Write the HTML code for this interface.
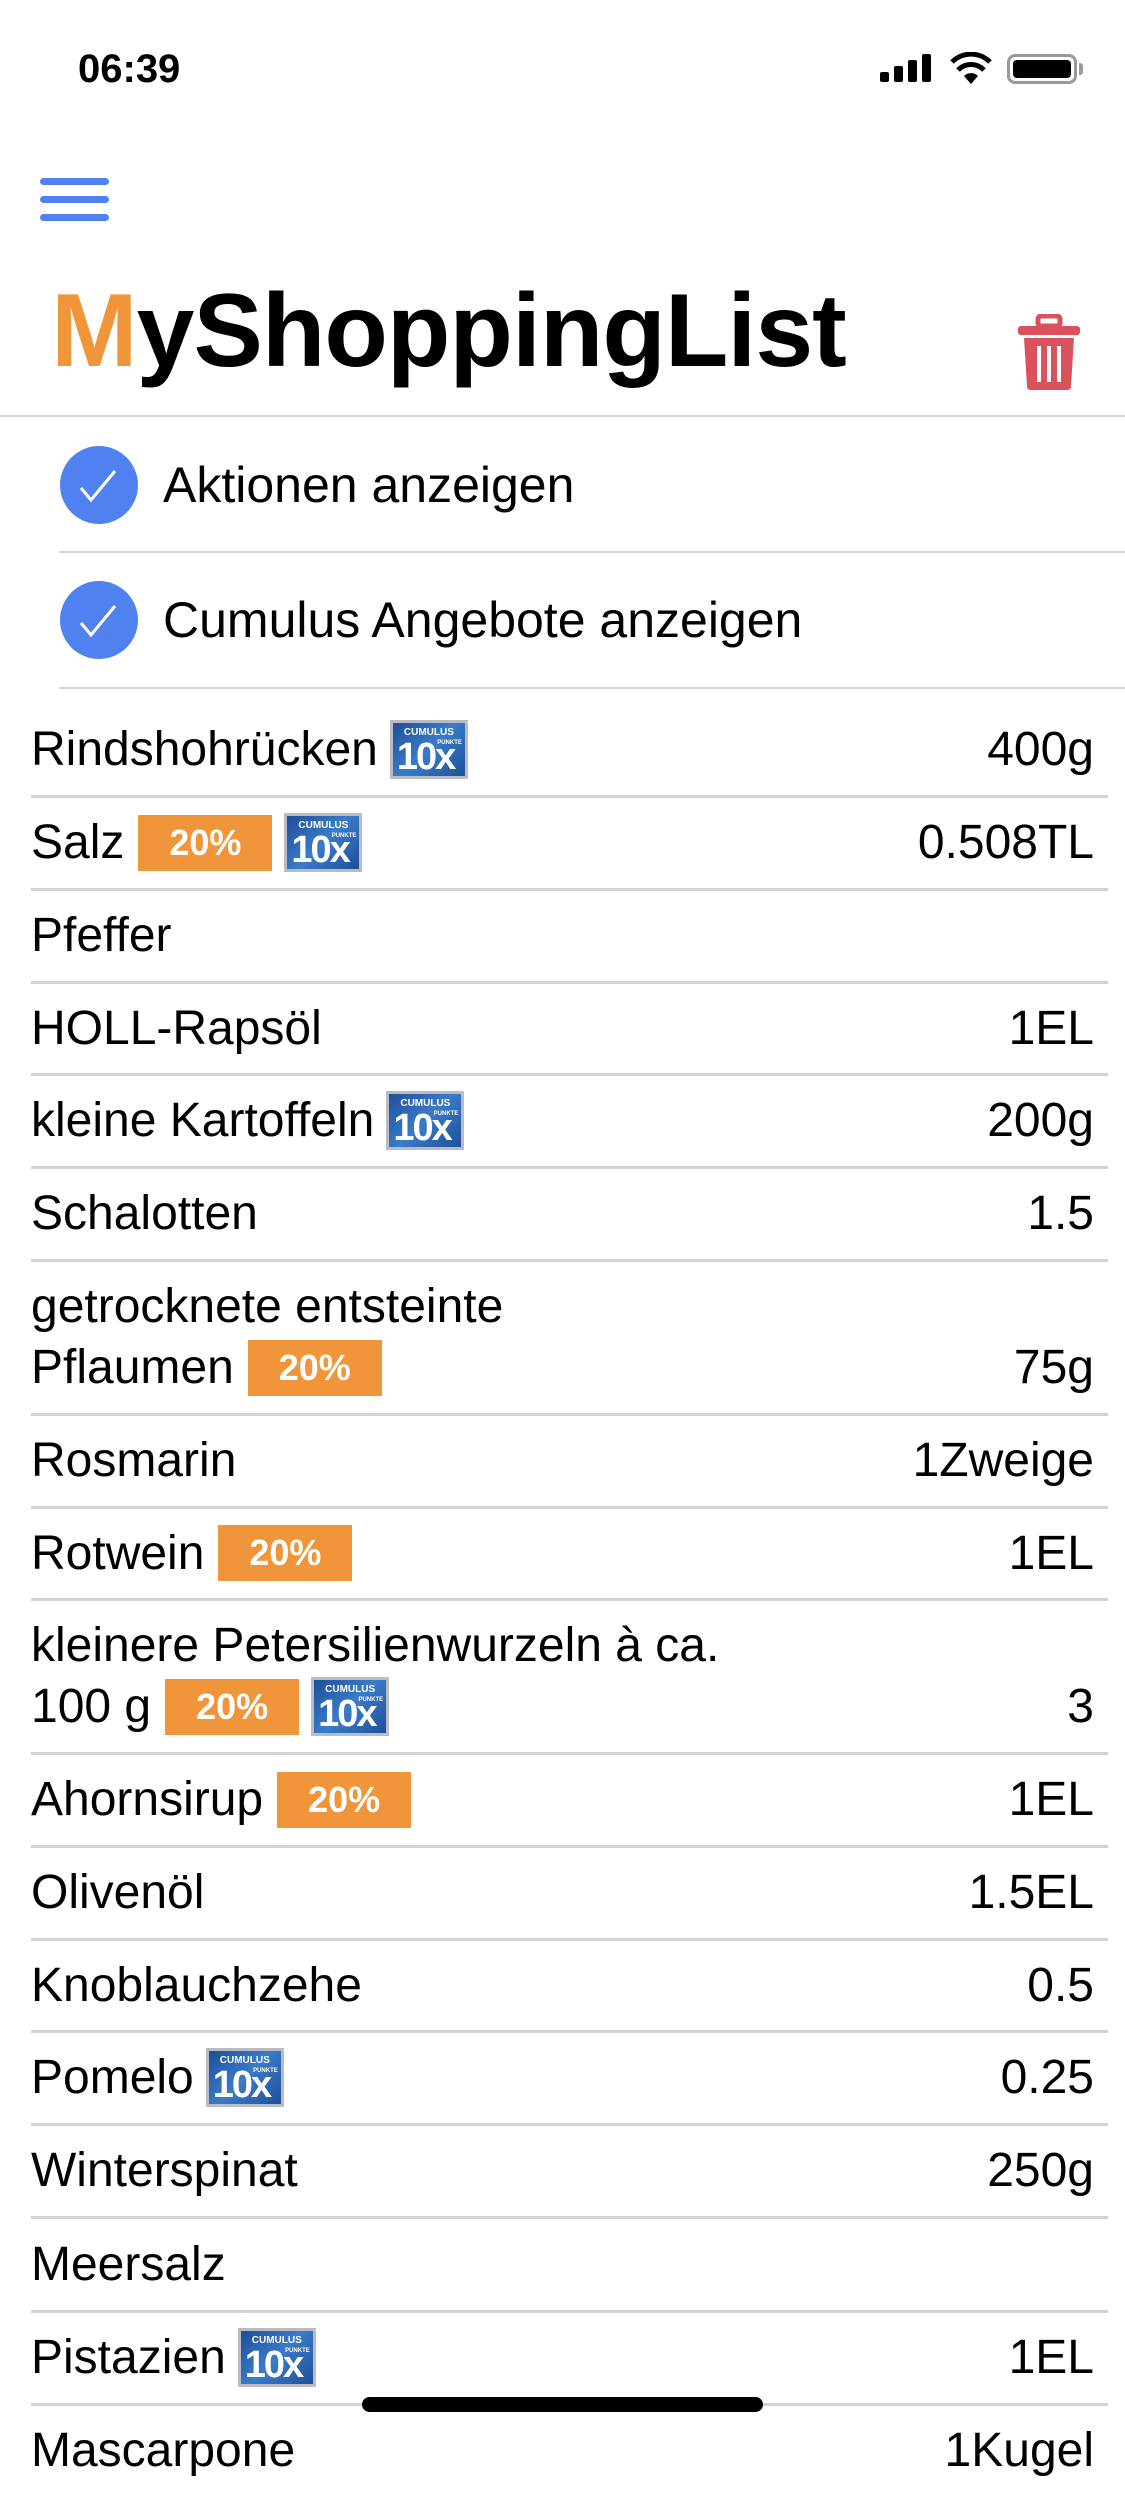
<!DOCTYPE html>
<html><head><meta charset="utf-8">
<style>
*{margin:0;padding:0;box-sizing:border-box}
html,body{width:1125px;height:2436px;overflow:hidden;background:#fff;font-family:"Liberation Sans",sans-serif;color:#000}
.abs{position:absolute}
.sep{position:absolute;left:31px;width:1077px;height:3px;background:#d3d3d3}
.row{position:absolute;left:31px;width:1063px;display:flex;align-items:center;font-size:48px}
.row .val{margin-left:auto}
.tall{display:block;font-size:48px}
.tall .l{height:61px;line-height:61px;display:flex;align-items:center}
.tall .val{position:absolute;right:0;bottom:16px;line-height:61px}
.pct{display:inline-block;width:134px;height:56px;background:#f0953a;color:#fff;font-weight:bold;font-size:36px;line-height:56px;text-align:center;margin-left:14px}
.cum{display:inline-block;position:relative;width:78px;height:59px;margin-left:12px;background:linear-gradient(135deg,#1f4f9a,#3a7bc8 50%,#1f4f9a);border:3px solid #b9bcc2;color:#fff;text-align:center;overflow:hidden;line-height:normal}
.cum .t{position:absolute;top:5px;left:0;right:0;font-size:10px;line-height:10px;font-weight:bold}
.cum .b{position:absolute;top:15px;left:4px;font-size:38px;font-weight:bold;letter-spacing:-2px;line-height:38px}
.cum .p{position:absolute;top:17px;right:3px;font-size:6px;line-height:6px;font-weight:bold}
</style></head><body>
<div class="abs" style="left:78px;top:47px;font-size:40px;font-weight:bold;">06:39</div>
<div class="abs" style="left:880px;top:54px;width:52px;height:28px">
 <div class="abs" style="left:0;top:18px;width:9px;height:10px;background:#000;border-radius:2px"></div>
 <div class="abs" style="left:14px;top:12px;width:9px;height:16px;background:#000;border-radius:2px"></div>
 <div class="abs" style="left:28px;top:6px;width:9px;height:22px;background:#000;border-radius:2px"></div>
 <div class="abs" style="left:42px;top:0;width:9px;height:28px;background:#000;border-radius:2px"></div>
</div>
<svg class="abs" style="left:950px;top:52px" width="42" height="32" viewBox="0 0 42 32">
 <path d="M21 32 L14 24 A10 10 0 0 1 28 24 Z" fill="#000"/>
 <path d="M8 18 A18 18 0 0 1 34 18" stroke="#000" stroke-width="5" fill="none"/>
 <path d="M2 10 A27 27 0 0 1 40 10" stroke="#000" stroke-width="5" fill="none"/>
</svg>
<div class="abs" style="left:1007px;top:54px;width:70px;height:30px;border:3px solid #999;border-radius:8px;padding:3px"><div style="width:100%;height:100%;background:#000;border-radius:4px"></div></div>
<div class="abs" style="left:1079px;top:63px;width:4px;height:12px;background:#999;border-radius:0 3px 3px 0"></div>

<div class="abs" style="left:40px;top:178px;width:69px;height:44px">
 <div class="abs" style="left:0;top:0;width:69px;height:7px;background:#4f82f0;border-radius:4px"></div>
 <div class="abs" style="left:0;top:18px;width:69px;height:7px;background:#4f82f0;border-radius:4px"></div>
 <div class="abs" style="left:0;top:36px;width:69px;height:7px;background:#4f82f0;border-radius:4px"></div>
</div>
<div class="abs" style="left:51px;top:271px;font-size:104px;font-weight:bold;line-height:120px;letter-spacing:-1px"><span style="color:#f0953a">M</span>yShoppingList</div>
<svg class="abs" style="left:1018px;top:314px" width="62" height="76" viewBox="0 0 62 76">
 <rect x="20" y="2" width="22" height="10" rx="3" fill="none" stroke="#d9525e" stroke-width="5"/>
 <rect x="0" y="12" width="62" height="9" rx="3" fill="#d9525e"/>
 <path d="M6 24 H56 L53 72 Q53 76 49 76 H13 Q9 76 9 72 Z" fill="#d9525e"/>
 <rect x="19" y="32" width="4" height="36" fill="#fff"/><rect x="29" y="32" width="4" height="36" fill="#fff"/><rect x="39" y="32" width="4" height="36" fill="#fff"/>
</svg>
<div class="abs" style="left:0;top:415px;width:1125px;height:2px;background:#d3d3d3"></div>

<div class="abs" style="left:60px;top:446px;width:78px;height:78px;border-radius:50%;background:#4f82f0"></div>
<svg class="abs" style="left:78px;top:468px" width="40" height="34"><path d="M3 20 L13 32 L37 3" stroke="#fff" stroke-width="3" fill="none"/></svg>
<div class="abs" style="left:163px;top:456px;font-size:50px;line-height:58px">Aktionen anzeigen</div>
<div class="abs" style="left:59px;top:551px;width:1066px;height:2px;background:#d3d3d3"></div>
<div class="abs" style="left:60px;top:581px;width:78px;height:78px;border-radius:50%;background:#4f82f0"></div>
<svg class="abs" style="left:78px;top:603px" width="40" height="34"><path d="M3 20 L13 32 L37 3" stroke="#fff" stroke-width="3" fill="none"/></svg>
<div class="abs" style="left:163px;top:591px;font-size:50px;line-height:58px">Cumulus Angebote anzeigen</div>
<div class="abs" style="left:59px;top:687px;width:1066px;height:2px;background:#d3d3d3"></div>

<div class="row" style="top:703px;height:93px">Rindshohrücken<span class="cum"><span class="t">CUMULUS</span><span class="b">10x</span><span class="p">PUNKTE</span></span><span class="val">400g</span></div>
<div class="sep" style="top:795px"></div>
<div class="row" style="top:796px;height:93px">Salz<span class="pct">20%</span><span class="cum"><span class="t">CUMULUS</span><span class="b">10x</span><span class="p">PUNKTE</span></span><span class="val">0.508TL</span></div>
<div class="sep" style="top:888px"></div>
<div class="row" style="top:889px;height:93px">Pfeffer</div>
<div class="sep" style="top:981px"></div>
<div class="row" style="top:982px;height:92px">HOLL-Rapsöl<span class="val">1EL</span></div>
<div class="sep" style="top:1073px"></div>
<div class="row" style="top:1074px;height:93px">kleine Kartoffeln<span class="cum"><span class="t">CUMULUS</span><span class="b">10x</span><span class="p">PUNKTE</span></span><span class="val">200g</span></div>
<div class="sep" style="top:1166px"></div>
<div class="row" style="top:1167px;height:93px">Schalotten<span class="val">1.5</span></div>
<div class="sep" style="top:1259px"></div>
<div class="row tall" style="top:1260px;height:154px;padding-top:16px"><div class="l">getrocknete entsteinte</div><div class="l">Pflaumen<span class="pct">20%</span></div><span class="val">75g</span></div>
<div class="sep" style="top:1413px"></div>
<div class="row" style="top:1414px;height:93px">Rosmarin<span class="val">1Zweige</span></div>
<div class="sep" style="top:1506px"></div>
<div class="row" style="top:1507px;height:92px">Rotwein<span class="pct">20%</span><span class="val">1EL</span></div>
<div class="sep" style="top:1598px"></div>
<div class="row tall" style="top:1599px;height:154px;padding-top:16px"><div class="l">kleinere Petersilienwurzeln à ca.</div><div class="l">100 g<span class="pct">20%</span><span class="cum"><span class="t">CUMULUS</span><span class="b">10x</span><span class="p">PUNKTE</span></span></div><span class="val">3</span></div>
<div class="sep" style="top:1752px"></div>
<div class="row" style="top:1753px;height:93px">Ahornsirup<span class="pct">20%</span><span class="val">1EL</span></div>
<div class="sep" style="top:1845px"></div>
<div class="row" style="top:1846px;height:93px">Olivenöl<span class="val">1.5EL</span></div>
<div class="sep" style="top:1938px"></div>
<div class="row" style="top:1939px;height:92px">Knoblauchzehe<span class="val">0.5</span></div>
<div class="sep" style="top:2030px"></div>
<div class="row" style="top:2031px;height:93px">Pomelo<span class="cum"><span class="t">CUMULUS</span><span class="b">10x</span><span class="p">PUNKTE</span></span><span class="val">0.25</span></div>
<div class="sep" style="top:2123px"></div>
<div class="row" style="top:2124px;height:93px">Winterspinat<span class="val">250g</span></div>
<div class="sep" style="top:2216px"></div>
<div class="row" style="top:2217px;height:94px">Meersalz</div>
<div class="sep" style="top:2310px"></div>
<div class="row" style="top:2311px;height:93px">Pistazien<span class="cum"><span class="t">CUMULUS</span><span class="b">10x</span><span class="p">PUNKTE</span></span><span class="val">1EL</span></div>
<div class="sep" style="top:2403px"></div>
<div class="row" style="top:2404px;height:93px">Mascarpone<span class="val">1Kugel</span></div>
<div class="abs" style="left:362px;top:2397px;width:401px;height:15px;background:#000;border-radius:8px"></div>
</body></html>
